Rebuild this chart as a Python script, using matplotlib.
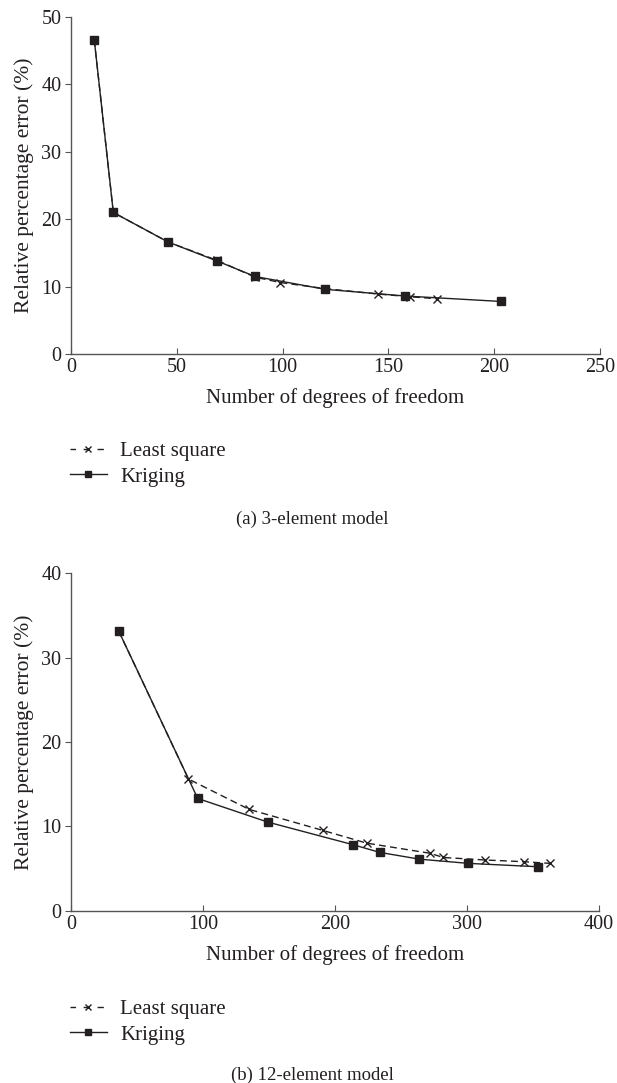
# Relative error vs. degrees of freedom: least square vs. kriging
import matplotlib
matplotlib.use("Agg")
import matplotlib.pyplot as plt
from matplotlib.lines import Line2D

# Data
# (a) 3-element model
ls_dof_a = [11, 20, 46, 69, 87, 99, 120, 145, 160, 173]
ls_err_a = [46.6, 21.0, 16.6, 13.9, 11.4, 10.6, 9.7, 8.9, 8.5, 8.2]
kr_dof_a = [11, 20, 46, 69, 87, 120, 158, 203]
kr_err_a = [46.6, 21.0, 16.6, 13.8, 11.5, 9.6, 8.6, 7.8]

# (b) 12-element model
ls_dof_b = [36, 89, 135, 191, 224, 272, 282, 314, 343, 363]
ls_err_b = [33.2, 15.6, 12.0, 9.5, 8.0, 6.8, 6.3, 6.0, 5.8, 5.6]
kr_dof_b = [36, 96, 149, 214, 234, 264, 301, 354]
kr_err_b = [33.2, 13.3, 10.5, 7.8, 6.9, 6.1, 5.6, 5.2]

xticks_a = [0, 50, 100, 150, 200, 250]
yticks_a = [0, 10, 20, 30, 40, 50]
xticks_b = [0, 100, 200, 300, 400]
yticks_b = [0, 10, 20, 30, 40]

ink = "#231f20"
axis_col = "#555555"
fs = 14.5

plt.rcParams["font.family"] = ["Liberation Serif", "DejaVu Serif"]
plt.rcParams["font.size"] = fs

fig = plt.figure(figsize=(6.17, 10.83), dpi=100)


def draw_panel(ax, lsx, lsy, krx, kry, xt, yt):
    ax.plot(lsx, lsy, color=ink, lw=1.0, ls=(0, (5, 3)), marker="x",
            ms=5.5, mew=1.0, zorder=2)
    ax.plot(krx, kry, color=ink, lw=1.0, ls="-", marker="s",
            ms=6, zorder=3)
    ax.set_xlim(xt[0], xt[-1])
    ax.set_ylim(yt[0], yt[-1])
    ax.set_xticks(xt)
    ax.set_yticks(yt)
    for s in ("top", "right"):
        ax.spines[s].set_visible(False)
    for s in ("left", "bottom"):
        ax.spines[s].set_color(axis_col)
        ax.spines[s].set_linewidth(1.0)
    ax.tick_params(axis="x", direction="in", length=4, color=axis_col,
                   labelsize=fs, pad=3, colors=ink)
    ax.tick_params(axis="y", direction="out", length=4, color=axis_col,
                   labelsize=fs, pad=3, colors=ink)
    ax.set_xlabel("Number of degrees of freedom", fontsize=15, color=ink,
                  labelpad=8)
    ax.set_ylabel("Relative percentage error (%)", fontsize=15.5, color=ink,
                  labelpad=5)


ax1 = fig.add_axes([71 / 617, 1 - 354 / 1083, 529 / 617, 337 / 1083])
draw_panel(ax1, ls_dof_a, ls_err_a, kr_dof_a, kr_err_a, xticks_a, yticks_a)

ax2 = fig.add_axes([71 / 617, 1 - 910.6 / 1083, 528 / 617, 337.3 / 1083])
draw_panel(ax2, ls_dof_b, ls_err_b, kr_dof_b, kr_err_b, xticks_b, yticks_b)

handles = [
    Line2D([], [], color=ink, lw=1.0, ls=(0.5, (4.5, 5.5)), marker="x", ms=4, mew=1.0),
    Line2D([], [], color=ink, lw=1.0, ls="-", marker="s", ms=5),
]
labels = ["Least square", "Kriging"]

for y_top in (435, 993):
    fig.legend(handles, labels, loc="upper left",
               bbox_to_anchor=(64 / 617, 1 - y_top / 1083),
               frameon=False, fontsize=15, handlelength=1.75,
               handletextpad=0.65, labelspacing=0.3, labelcolor=ink,
               borderpad=0.3, borderaxespad=0.0)

fig.text(312 / 617, 1 - 519 / 1083, "(a) 3-element model", ha="center",
         va="center", fontsize=13.5, color=ink)
fig.text(312 / 617, 1 - 1075 / 1083, "(b) 12-element model", ha="center",
         va="center", fontsize=13.5, color=ink)

fig.savefig("out.png", dpi=100)
